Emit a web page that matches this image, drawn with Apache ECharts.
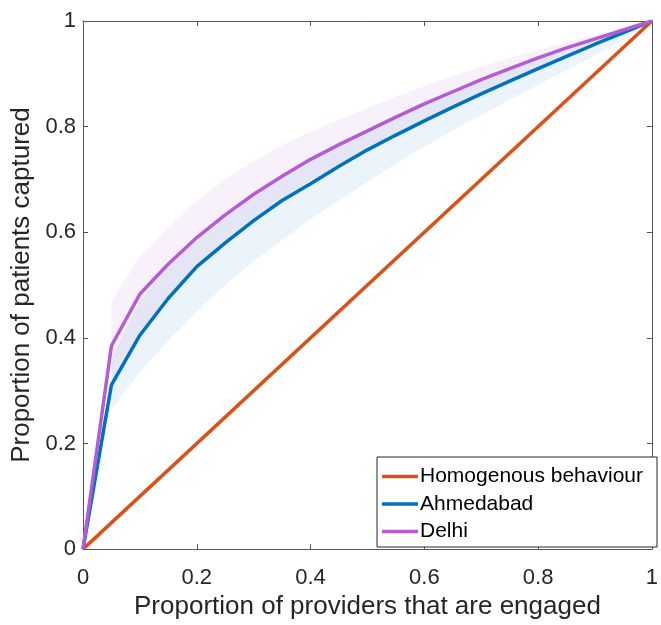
<!DOCTYPE html>
<html>
<head>
<meta charset="utf-8">
<script src="https://cdn.jsdelivr.net/npm/echarts@6/dist/echarts.min.js"></script>
<style>
html,body{margin:0;padding:0;background:#fff;}
#chart{width:661px;height:625px;}
</style>
</head>
<body>
<div id="chart"></div>
<script>
// ---- data ----
const xTicks = [0, 0.2, 0.4, 0.6, 0.8, 1];
const yTicks = [0, 0.2, 0.4, 0.6, 0.8, 1];
const seriesNames = ['Homogenous behaviour', 'Ahmedabad', 'Delhi'];

const homogX = [0, 1];
const homogY = [0, 1];

const xs = [0, 0.05, 0.1, 0.15, 0.2, 0.25, 0.3, 0.35, 0.4, 0.45, 0.5,
            0.55, 0.6, 0.65, 0.7, 0.75, 0.8, 0.85, 0.9, 0.95, 1];

const ahmedabad = [0, 0.311, 0.405, 0.475, 0.535, 0.580, 0.622, 0.660, 0.692, 0.725, 0.756,
                   0.784, 0.811, 0.837, 0.862, 0.886, 0.910, 0.933, 0.956, 0.978, 1];
const delhi = [0, 0.385, 0.483, 0.540, 0.590, 0.633, 0.672, 0.706, 0.738, 0.766, 0.792,
               0.818, 0.843, 0.866, 0.889, 0.910, 0.930, 0.949, 0.966, 0.983, 1];

// uncertainty bands (from x = 0.05 onward)
const bandX = [0.05, 0.1, 0.15, 0.2, 0.25, 0.3, 0.35, 0.4, 0.45, 0.5,
               0.55, 0.6, 0.65, 0.7, 0.75, 0.8, 0.85, 0.9, 0.95, 1];
const ahmedabadLow = [0.265, 0.335, 0.395, 0.450, 0.500, 0.545, 0.585, 0.625, 0.660, 0.695,
                      0.730, 0.762, 0.793, 0.822, 0.851, 0.879, 0.907, 0.935, 0.965, 1];
const ahmedabadHigh = [0.360, 0.470, 0.535, 0.585, 0.628, 0.668, 0.703, 0.735, 0.765, 0.792,
                       0.818, 0.842, 0.866, 0.888, 0.909, 0.930, 0.949, 0.967, 0.984, 1];
const delhiLow = [0.320, 0.410, 0.480, 0.540, 0.585, 0.626, 0.664, 0.697, 0.729, 0.759,
                  0.787, 0.814, 0.840, 0.865, 0.889, 0.912, 0.935, 0.957, 0.979, 1];
const delhiHigh = [0.470, 0.553, 0.610, 0.660, 0.700, 0.735, 0.765, 0.790, 0.813, 0.835,
                   0.857, 0.877, 0.896, 0.913, 0.930, 0.945, 0.960, 0.973, 0.987, 1];

// ---- styles ----
const FONT = 'Liberation Sans, Arial, Helvetica, sans-serif';
const TXT = '#262626';
const AXC = '#555555';
const C_HOM = '#D95319';
const C_AHM = '#0072BD';
const C_DEL = '#B35CD6';

function bandSeries(lo, hi, fill) {
  return {
    type: 'custom',
    silent: true,
    z: 1,
    data: bandX.map((x, i) => [x, lo[i], hi[i]]),
    encode: { x: 0, y: [1, 2] },
    renderItem: function (params, api) {
      if (params.dataIndex !== 0) return null;
      const pts = [];
      for (let i = 0; i < bandX.length; i++) pts.push(api.coord([bandX[i], hi[i]]));
      for (let i = bandX.length - 1; i >= 0; i--) pts.push(api.coord([bandX[i], lo[i]]));
      return { type: 'polygon', shape: { points: pts }, style: { fill: fill } };
    }
  };
}

function makeAxis(position, extra) {
  return Object.assign({
    type: 'value', min: 0, max: 1, interval: 0.2,
    position: position,
    splitLine: { show: false },
    axisLine: { show: true, onZero: false, lineStyle: { color: AXC, width: 1 } },
    axisTick: { show: true, inside: true, length: 5, lineStyle: { color: AXC, width: 1 } }
  }, extra);
}

const chart = echarts.init(document.getElementById('chart'));

chart.setOption({
  animation: false,
  backgroundColor: '#ffffff',
  grid: { left: 83, right: 5, top: 21, bottom: 71, containLabel: false },
  xAxis: [
    makeAxis('bottom', {
      name: 'Proportion of providers that are engaged',
      nameLocation: 'middle', nameGap: 43,
      nameTextStyle: { fontFamily: FONT, fontSize: 26, color: TXT },
      axisLabel: { fontFamily: FONT, fontSize: 22, color: TXT, margin: 18,
        formatter: v => String(xTicks.find(t => Math.abs(t - v) < 1e-9) ?? v) }
    }),
    makeAxis('top', { axisLabel: { show: false } })
  ],
  yAxis: [
    makeAxis('left', {
      name: 'Proportion of patients captured',
      nameLocation: 'middle', nameGap: 48, nameRotate: 90,
      nameTextStyle: { fontFamily: FONT, fontSize: 26, color: TXT },
      axisLabel: { fontFamily: FONT, fontSize: 22, color: TXT, margin: 7,
        formatter: v => String(yTicks.find(t => Math.abs(t - v) < 1e-9) ?? v) }
    }),
    makeAxis('right', { axisLabel: { show: false } })
  ],
  legend: {
    data: seriesNames,
    orient: 'vertical',
    right: 4, bottom: 78,
    backgroundColor: '#ffffff',
    borderColor: '#262626', borderWidth: 1, borderRadius: 0,
    padding: [9, 14, 5, 5],
    icon: 'rect',
    itemWidth: 36, itemHeight: 3.5, itemGap: 6.5,
    textStyle: { fontFamily: FONT, fontSize: 21, color: '#000', lineHeight: 20, padding: [0, 0, 0, -3] }
  },
  series: [
    bandSeries(delhiLow, delhiHigh, 'rgba(179,92,214,0.09)'),
    bandSeries(ahmedabadLow, ahmedabadHigh, 'rgba(0,114,189,0.08)'),
    {
      name: seriesNames[0], type: 'line', z: 3,
      data: homogX.map((x, i) => [x, homogY[i]]),
      showSymbol: false, symbol: 'none',
      lineStyle: { color: C_HOM, width: 3.5 }, itemStyle: { color: C_HOM }
    },
    {
      name: seriesNames[1], type: 'line', z: 4,
      data: xs.map((x, i) => [x, ahmedabad[i]]),
      showSymbol: false, symbol: 'none',
      lineStyle: { color: C_AHM, width: 3.5 }, itemStyle: { color: C_AHM }
    },
    {
      name: seriesNames[2], type: 'line', z: 5,
      data: xs.map((x, i) => [x, delhi[i]]),
      showSymbol: false, symbol: 'none',
      lineStyle: { color: C_DEL, width: 3.5 }, itemStyle: { color: C_DEL }
    }
  ]
});
</script>
</body>
</html>
